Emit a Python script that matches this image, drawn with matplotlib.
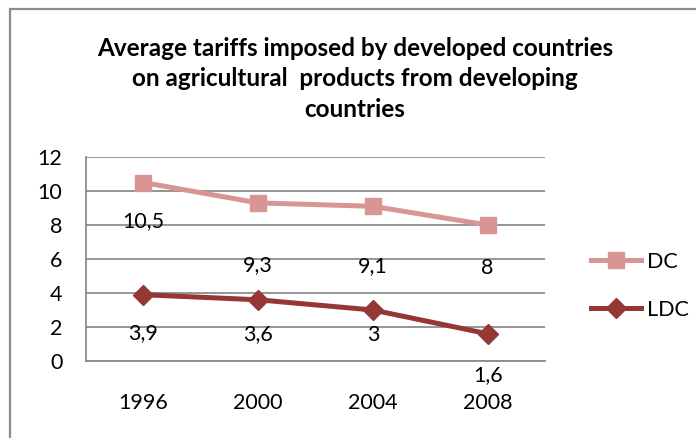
import matplotlib
matplotlib.use("Agg")
import matplotlib.pyplot as plt
from matplotlib.patches import Rectangle
from matplotlib.lines import Line2D

years = ["1996", "2000", "2004", "2008"]
dc = [10.5, 9.3, 9.1, 8]
ldc = [3.9, 3.6, 3, 1.6]
dc_labels = ["10,5", "9,3", "9,1", "8"]
ldc_labels = ["3,9", "3,6", "3", "1,6"]
series_names = ["DC", "LDC"]
title = "Average tariffs imposed by developed countries\non agricultural  products from developing\ncountries"

# label vertical offsets (points) below each point, as placed in the original
dc_off = [-28, -45, -43, -31]
ldc_off = [-28, -25, -18, -30]

plt.rcParams['font.family'] = ['Lato', 'DejaVu Sans']

W, H = 696, 438
fig = plt.figure(figsize=(W / 100, H / 100), dpi=100)

# outer chart border
fig.add_artist(Rectangle((10 / W, -0.1), 1.2, (H - 9) / H + 0.1, transform=fig.transFigure,
                         fill=False, edgecolor="#8c8c8c", linewidth=1.6))

ax = fig.add_axes([86 / W, 1 - 361 / H, (545 - 86) / W, (361 - 157) / H])
x = list(range(len(years)))
ax.set_xlim(-0.5, len(years) - 0.5)
ax.set_ylim(0, 12)
ax.set_yticks(range(0, 13, 2))
ax.yaxis.grid(True, color="#8c8c8c", linewidth=1.3)
ax.set_axisbelow(True)
for s in ["top", "right"]:
    ax.spines[s].set_visible(False)
ax.spines["left"].set_color("#8c8c8c")
ax.spines["left"].set_linewidth(1.3)
ax.spines["bottom"].set_color("#8c8c8c")
ax.spines["bottom"].set_linewidth(1.3)
ax.tick_params(axis="both", length=0, labelsize=15.5)
ax.tick_params(axis="y", pad=17)
ax.tick_params(axis="x", pad=23)
ax.set_xticks(x)
ax.set_xticklabels(years)

dc_col = "#D99594"
ldc_col = "#953735"
ax.plot(x, dc, color=dc_col, linewidth=3.6, marker="s", markersize=12, clip_on=False,
        label=series_names[0])
ax.plot(x, ldc, color=ldc_col, linewidth=3.6, marker="D", markersize=10, clip_on=False,
        label=series_names[1])

for xi, v, lab, off in zip(x, dc, dc_labels, dc_off):
    ax.annotate(lab, (xi, v), xytext=(0, off), textcoords="offset points",
                ha="center", va="center", fontsize=15.5, color="black")
for xi, v, lab, off in zip(x, ldc, ldc_labels, ldc_off):
    ax.annotate(lab, (xi, v), xytext=(0, off), textcoords="offset points",
                ha="center", va="center", fontsize=15.5, color="black", annotation_clip=False)

fig.text(355 / W, 1 - 79 / H, title, ha="center", va="center", fontsize=17.5,
         fontweight="bold", linespacing=1.42)

handles = [Line2D([], [], color=dc_col, linewidth=3.6, marker="s", markersize=12),
           Line2D([], [], color=ldc_col, linewidth=3.6, marker="D", markersize=10)]
fig.legend(handles, series_names, loc="center left", bbox_to_anchor=(572 / W, 1 - 286 / H),
           frameon=False, fontsize=15.5, handlelength=2.3, labelspacing=1.3, handletextpad=0.3)

fig.savefig("out.png", dpi=100)
